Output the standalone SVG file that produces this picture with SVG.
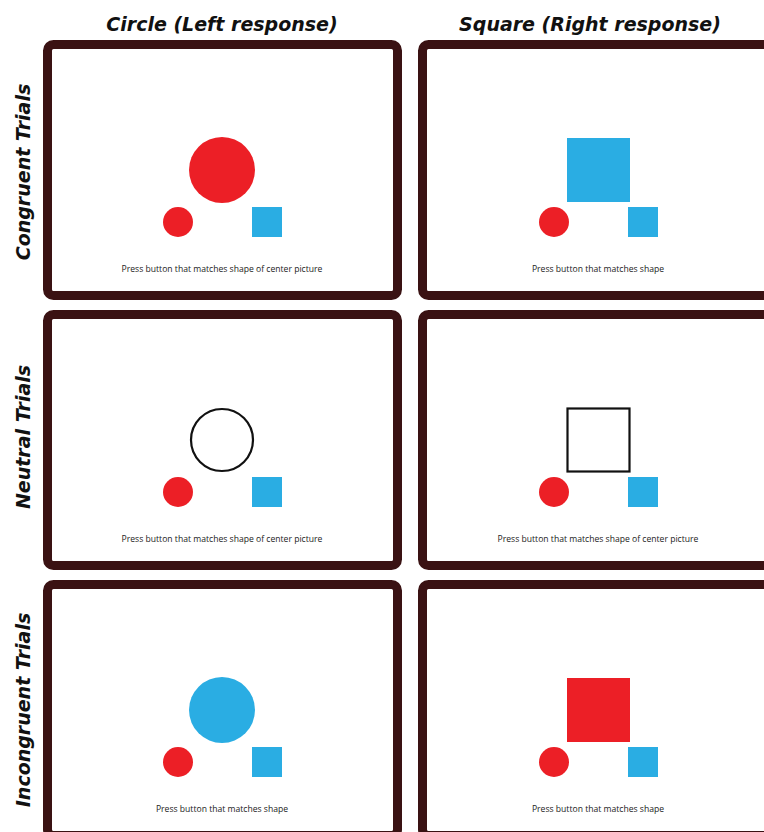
<svg xmlns="http://www.w3.org/2000/svg" width="764" height="832" viewBox="0 0 764 832">
<style>
.frame{fill:#ffffff;stroke:#3a1213;stroke-width:9}
.red{fill:#ec1f26}
.blue{fill:#2aade3}
.hollow{fill:none;stroke:#111111;stroke-width:2.2}
.hdr{font-family:"DejaVu Sans",sans-serif;font-weight:bold;font-style:italic;font-size:19px;fill:#111111;text-anchor:middle}
.note{font-family:"Open Sans","Noto Sans",sans-serif;font-size:8.6px;fill:#222222;text-anchor:middle}
</style>
<rect width="764" height="832" fill="#ffffff"/>
<g id="headers">
<text class="hdr" x="222" y="31">Circle (Left response)</text>
<text class="hdr" x="590" y="31">Square (Right response)</text>
<text class="hdr" transform="translate(30,172) rotate(-90)">Congruent Trials</text>
<text class="hdr" transform="translate(30,437) rotate(-90)">Neutral Trials</text>
<text class="hdr" transform="translate(30,710) rotate(-90)">Incongruent Trials</text>
</g>
<g id="congruent-circle">
<rect class="frame" x="47.5" y="44.5" width="350" height="251" rx="6"/>
<circle class="red" cx="222" cy="170" r="33"/>
<circle class="red" cx="178" cy="222" r="15"/>
<rect class="blue" x="252" y="207" width="30" height="30"/>
<text class="note" x="222" y="272">Press button that matches shape of center picture</text>
</g>
<g id="congruent-square">
<rect class="frame" x="422.5" y="44.5" width="350" height="251" rx="6"/>
<rect class="blue" x="567" y="138" width="63" height="64"/>
<circle class="red" cx="554" cy="222" r="15"/>
<rect class="blue" x="628" y="207" width="30" height="30"/>
<text class="note" x="598" y="272">Press button that matches shape</text>
</g>
<g id="neutral-circle">
<rect class="frame" x="47.5" y="314.5" width="350" height="251" rx="6"/>
<circle class="hollow" cx="222" cy="440" r="31"/>
<circle class="red" cx="178" cy="492" r="15"/>
<rect class="blue" x="252" y="477" width="30" height="30"/>
<text class="note" x="222" y="542">Press button that matches shape of center picture</text>
</g>
<g id="neutral-square">
<rect class="frame" x="422.5" y="314.5" width="350" height="251" rx="6"/>
<rect class="hollow" x="567.5" y="408.5" width="62" height="63"/>
<circle class="red" cx="554" cy="492" r="15"/>
<rect class="blue" x="628" y="477" width="30" height="30"/>
<text class="note" x="598" y="542">Press button that matches shape of center picture</text>
</g>
<g id="incongruent-circle">
<rect class="frame" x="47.5" y="584.5" width="350" height="251" rx="6"/>
<circle class="blue" cx="222" cy="710" r="33"/>
<circle class="red" cx="178" cy="762" r="15"/>
<rect class="blue" x="252" y="747" width="30" height="30"/>
<text class="note" x="222" y="812">Press button that matches shape</text>
</g>
<g id="incongruent-square">
<rect class="frame" x="422.5" y="584.5" width="350" height="251" rx="6"/>
<rect class="red" x="567" y="678" width="63" height="64"/>
<circle class="red" cx="554" cy="762" r="15"/>
<rect class="blue" x="628" y="747" width="30" height="30"/>
<text class="note" x="598" y="812">Press button that matches shape</text>
</g>
<g id="connectors"></g>
</svg>
